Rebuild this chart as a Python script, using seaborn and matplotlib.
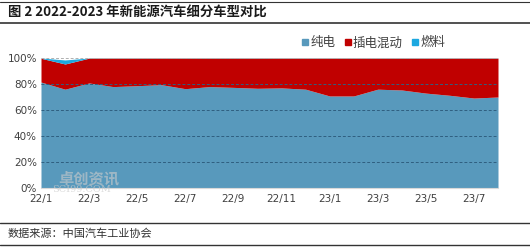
import matplotlib
matplotlib.use("Agg")
import matplotlib.pyplot as plt
import seaborn as sns
import numpy as np
from matplotlib.lines import Line2D

months = ["22/1", "22/2", "22/3", "22/4", "22/5", "22/6", "22/7", "22/8", "22/9", "22/10",
          "22/11", "22/12", "23/1", "23/2", "23/3", "23/4", "23/5", "23/6", "23/7", "23/8"]
bev = [81.5, 76.0, 80.8, 78.0, 78.7, 79.5, 76.4, 78.0, 77.4, 76.7,
       77.0, 76.0, 70.8, 70.8, 76.0, 75.4, 73.0, 71.3, 69.2, 70.0]
phev = [18.3, 19.4, 19.1, 21.9, 21.2, 20.4, 23.5, 21.9, 22.5, 23.2,
        22.9, 23.9, 29.1, 29.1, 23.9, 24.5, 26.9, 28.6, 30.7, 29.9]
fcev = [0.2, 3.1, 0.1, 0.1, 0.1, 0.1, 0.1, 0.1, 0.1, 0.1,
        0.1, 0.1, 0.1, 0.1, 0.1, 0.1, 0.1, 0.1, 0.1, 0.1]
series_names = ["纯电", "插电混动", "燃料"]
colors = ["#5899BC", "#C00000", "#1CA8E0"]
yticks = [0, 20, 40, 60, 80, 100]
ytick_labels = ["0%", "20%", "40%", "60%", "80%", "100%"]

sns.set_theme(style="white")
plt.rcParams["font.family"] = ["Noto Sans CJK SC", "DejaVu Sans"]

fig = plt.figure(figsize=(5.3, 2.5), dpi=100)
ax = fig.add_axes([41 / 530, 62 / 250, 457 / 530, 130 / 250])

x = np.arange(len(months))
ax.stackplot(x, bev, phev, fcev, colors=colors, linewidth=0, zorder=1)

ax.set_xlim(0, len(months) - 1)
ax.set_ylim(0, 100)
ax.set_yticks(yticks)
ax.set_yticklabels(ytick_labels, fontsize=7.5, color="#404040", family=["DejaVu Sans"])
ax.set_xticks(x[::2])
ax.set_xticklabels(months[::2], fontsize=7.5, color="#404040", family=["DejaVu Sans"])
ax.tick_params(axis="y", length=0, pad=3)
ax.tick_params(axis="x", direction="in", length=3, color="#d9d9d9", pad=4)
for s in ["top", "right", "left"]:
    ax.spines[s].set_visible(False)
ax.spines["bottom"].set_color("#d9d9d9")
ax.spines["bottom"].set_linewidth(0.8)

for yv in yticks[1:]:
    ax.axhline(yv, color="#2f5f80" if yv < 100 else "#b0b0b0", linewidth=0.7,
               linestyle=(0, (3, 2)), zorder=3)

handles = [Line2D([0], [0], marker="s", linestyle="none", markersize=4.5,
                  markerfacecolor=c, markeredgecolor=c) for c in colors]
fig.legend(handles, series_names, loc="center", bbox_to_anchor=(372 / 530, 1 - 43 / 250),
           ncol=3, frameon=False, fontsize=9, handletextpad=-0.1, columnspacing=0.5,
           handlelength=1.0, labelcolor="#404040")

# watermark
fig.text(58 / 530, 1 - 178 / 250, "卓创资讯", fontsize=11, color="#cccccc", alpha=0.6,
         ha="left", va="center", fontweight="bold")
fig.text(52 / 530, 1 - 190 / 250, "SCI99.COM", fontsize=7, color="#cccccc", alpha=0.7,
         ha="left", va="center", family=["DejaVu Serif"])

# title and frame lines
fig.text(8 / 530, 1 - 13 / 250, "图 2 2022-2023 年新能源汽车细分车型对比", fontsize=9.6,
         fontweight="bold", color="#1a1a1a", ha="left", va="center")
fig.add_artist(Line2D([0, 1], [1 - 2 / 250, 1 - 2 / 250], color="#333333", linewidth=0.8))
fig.add_artist(Line2D([0, 1], [1 - 22.5 / 250, 1 - 22.5 / 250], color="#333333", linewidth=1.2))
fig.add_artist(Line2D([0, 1], [1 - 223 / 250, 1 - 223 / 250], color="#333333", linewidth=1.0))
fig.add_artist(Line2D([0, 1], [1 - 244.5 / 250, 1 - 244.5 / 250], color="#333333", linewidth=1.0))
fig.text(8 / 530, 1 - 234 / 250, "数据来源：中国汽车工业协会", fontsize=8,
         color="#333333", ha="left", va="center")

fig.savefig("out.png", dpi=100)
